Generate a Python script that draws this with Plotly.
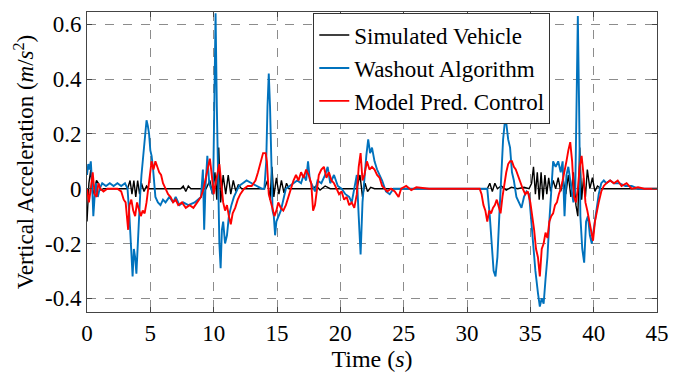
import plotly.graph_objects as go

# ---------------- data ----------------
t_sim = [0, 0.15, 0.3, 0.45, 0.6, 0.75, 0.9, 1.1, 1.3, 3.2, 3.4, 3.55, 3.7, 3.85, 4.0, 4.15, 4.3,
         4.5, 4.7, 4.9, 5.2, 7.4, 7.6, 7.8, 8.0, 8.2, 9.4, 9.7, 9.9, 10.1, 10.25, 10.4, 10.55,
         10.75, 10.95, 11.15, 11.35, 11.55, 11.75, 11.95, 12.2, 12.5, 14.0, 14.25, 14.45, 14.6,
         14.75, 14.95, 15.15, 15.35, 15.55, 15.75, 15.95, 16.3, 17.8, 18.1, 18.4, 18.8, 19.2,
         19.6, 21.3, 21.55, 21.75, 21.95, 22.15, 22.4, 22.7, 31.6, 31.8, 32.0, 32.2, 32.4, 32.7,
         33.1, 33.5, 34.0, 34.5, 34.9, 35.1, 35.25, 35.4, 35.55, 35.7, 35.85, 36.0, 36.15, 36.3,
         36.45, 36.6, 36.8, 37.0, 37.2, 37.4, 37.6, 37.8, 38.0, 38.2, 38.4, 38.6, 38.75, 38.9,
         39.05, 39.2, 39.35, 39.5, 39.7, 39.9, 40.1, 40.3, 40.6, 45]
y_sim = [-0.12, 0.02, 0.07, -0.02, 0.0, 0.03, 0.02, -0.005, 0.0, 0.0, 0.03, -0.02, 0.03, -0.03,
         0.03, -0.02, 0.02, -0.01, 0.01, 0.0, 0.0, 0.0, 0.01, -0.01, 0.01, 0.0, 0.0, 0.03, -0.02,
         0.06, -0.04, 0.15, -0.05, 0.05, -0.02, 0.05, -0.02, 0.03, -0.01, 0.015, 0.0, 0.0, 0.0,
         0.03, -0.04, 0.08, -0.03, 0.04, -0.02, 0.03, -0.015, 0.02, 0.0, 0.0, 0.0, 0.01, -0.005,
         0.01, 0.0, 0.0, 0.0, 0.05, -0.03, 0.02, -0.01, 0.005, 0.0, 0.0, 0.02, -0.01, 0.02, 0.0,
         0.01, -0.005, 0.005, 0.0, 0.005, 0.0, 0.02, 0.08, -0.02, 0.06, -0.04, 0.06, -0.04, 0.05,
         -0.02, 0.04, -0.01, 0.03, 0.0, 0.04, -0.01, 0.03, -0.02, 0.05, -0.03, 0.06, -0.06, -0.1,
         0.15, -0.04, 0.04, -0.03, 0.07, 0.0, 0.04, -0.01, 0.01, 0.0, 0.0]

t_wash = [0, 0.1, 0.2, 0.3, 0.4, 0.5, 0.6, 0.7, 0.85, 1.0, 1.2, 1.5, 1.8, 2.1, 2.4, 2.7, 3.0,
          3.2, 3.35, 3.5, 3.6, 3.7, 3.8, 3.9, 4.0, 4.1, 4.2, 4.3, 4.4, 4.5, 4.6, 4.7, 4.8, 4.9,
          5.0, 5.1, 5.2, 5.3, 5.4, 5.6, 5.8, 6.0, 6.2, 6.5, 6.8, 7.0, 7.3, 7.6, 8.0, 8.5, 9.0,
          9.15, 9.25, 9.35, 9.5, 9.65, 9.8, 9.95, 10.05, 10.15, 10.25, 10.35, 10.45, 10.55,
          10.65, 10.75, 10.9, 11.05, 11.2, 11.4, 11.6, 11.8, 12.0, 12.3, 12.6, 13.0, 13.4, 13.8,
          14.0, 14.15, 14.25, 14.35, 14.45, 14.55, 14.65, 14.75, 14.85, 14.95, 15.1, 15.3, 15.5,
          15.7, 16.0, 16.3, 16.6, 16.9, 17.1, 17.3, 17.45, 17.6, 17.8, 18.0, 18.2, 18.5, 18.8,
          19.0, 19.2, 19.5, 19.8, 20.1, 20.4, 20.7, 20.9, 21.1, 21.3, 21.45, 21.6, 21.75, 21.9,
          22.05, 22.2, 22.35, 22.5, 22.7, 22.9, 23.1, 23.3, 23.6, 23.9, 24.2, 24.6, 31.6, 31.8,
          31.95, 32.1, 32.25, 32.4, 32.55, 32.7, 32.85, 33.0, 33.1, 33.25, 33.4, 33.55, 33.7,
          33.9, 34.1, 34.3, 34.5, 34.7, 34.9, 35.05, 35.2, 35.4, 35.6, 35.75, 35.9, 36.05, 36.2,
          36.35, 36.5, 36.65, 36.8, 37.0, 37.2, 37.4, 37.55, 37.7, 37.85, 38.0, 38.2, 38.4,
          38.55, 38.65, 38.75, 38.85, 38.95, 39.1, 39.25, 39.4, 39.55, 39.7, 39.85, 40.0, 40.2,
          40.4, 40.6, 40.8, 41.0, 41.3, 41.6, 42.0, 42.5, 43.0, 43.5, 45]
y_wash = [0.05, 0.09, 0.07, 0.1, 0.02, -0.1, -0.03, 0.02, -0.03, 0.0, 0.02, 0.01, 0.02, 0.01,
          0.02, 0.01, 0.02, 0.0, -0.1, -0.25, -0.32, -0.22, -0.25, -0.31, -0.2, -0.1, -0.02,
          0.05, 0.1, 0.17, 0.22, 0.25, 0.23, 0.2, 0.14, 0.12, 0.08, 0.02, -0.03, -0.05, -0.06,
          -0.04, -0.05, -0.03, -0.05, -0.03, -0.06, -0.05, -0.06, -0.05, -0.03, 0.07, -0.15, 0.0,
          0.12, 0.02, 0.0, -0.02, 0.3, 0.64, 0.3, -0.05, -0.2, -0.29, -0.15, -0.12, -0.2, -0.17,
          -0.1, -0.06, -0.03, -0.01, 0.01, 0.02, 0.03, 0.02, 0.01, 0.0, 0.0, 0.1, 0.3, 0.42, 0.3,
          0.05, -0.08, -0.1, -0.17, -0.12, -0.1, -0.08, -0.04, 0.0, 0.01, 0.02, 0.03, 0.02, 0.05,
          0.03, 0.1, 0.03, 0.01, -0.01, 0.03, 0.02, 0.05, 0.08, 0.02, 0.05, 0.01, 0.0, -0.02,
          -0.03, -0.05, 0.0, 0.05, -0.1, -0.24, -0.05, 0.05, 0.12, 0.18, 0.13, 0.15, 0.1, 0.07,
          0.05, 0.03, -0.01, -0.02, 0.0, 0.0, 0.0, -0.1, -0.22, -0.3, -0.32, -0.25, -0.1, 0.05,
          0.18, 0.25, 0.24, 0.18, 0.15, 0.06, 0.03, -0.03, -0.05, -0.07, -0.03, -0.01, -0.02,
          -0.1, -0.2, -0.3, -0.38, -0.43, -0.4, -0.42, -0.33, -0.25, -0.12, 0.0, 0.1, 0.08, 0.1,
          0.06, 0.1, -0.1, 0.05, 0.08, 0.02, -0.05, 0.0, 0.4, 0.63, 0.3, -0.1, -0.22, -0.27,
          -0.12, -0.1, -0.17, -0.2, -0.15, -0.08, -0.02, 0.02, 0.03, 0.02, 0.03, 0.02, 0.02,
          0.01, 0.01, 0.0, 0.0]

t_mpc = [0, 0.15, 0.3, 0.45, 0.6, 0.75, 0.9, 1.05, 1.3, 1.6, 2.0, 2.4, 2.7, 2.9, 3.05, 3.15,
         3.25, 3.35, 3.5, 3.65, 3.8, 3.95, 4.1, 4.25, 4.4, 4.55, 4.7, 4.85, 5.0, 5.1, 5.25, 5.4,
         5.55, 5.7, 5.85, 6.0, 6.2, 6.4, 6.6, 6.8, 7.0, 7.2, 7.5, 7.8, 8.1, 8.4, 8.7, 9.0, 9.2,
         9.4, 9.55, 9.7, 9.85, 10.0, 10.15, 10.3, 10.45, 10.6, 10.75, 10.9, 11.05, 11.2, 11.35,
         11.5, 11.7, 11.9, 12.1, 12.4, 12.7, 13.0, 13.3, 13.5, 13.7, 13.9, 14.1, 14.2, 14.35,
         14.5, 14.65, 14.8, 14.95, 15.1, 15.3, 15.5, 15.7, 15.9, 16.1, 16.3, 16.5, 16.7, 16.9,
         17.1, 17.3, 17.5, 17.7, 17.85, 18.0, 18.15, 18.3, 18.5, 18.7, 18.9, 19.1, 19.3, 19.5,
         19.7, 19.9, 20.1, 20.3, 20.5, 20.7, 20.9, 21.1, 21.3, 21.45, 21.6, 21.75, 21.9, 22.1,
         22.3, 22.5, 22.7, 22.9, 23.1, 23.3, 23.5, 23.7, 24.0, 24.3, 24.6, 24.8, 25.2, 25.6,
         26.0, 27.0, 28.0, 31.0, 31.15, 31.3, 31.45, 31.6, 31.75, 31.9, 32.05, 32.2, 32.35,
         32.5, 32.65, 32.8, 32.95, 33.1, 33.25, 33.4, 33.55, 33.7, 33.85, 34.0, 34.2, 34.4,
         34.6, 34.8, 35.0, 35.15, 35.3, 35.45, 35.6, 35.75, 35.9, 36.05, 36.2, 36.35, 36.5,
         36.65, 36.8, 36.95, 37.1, 37.25, 37.4, 37.55, 37.7, 37.85, 38.0, 38.15, 38.3, 38.45,
         38.6, 38.75, 38.9, 39.05, 39.2, 39.35, 39.5, 39.65, 39.8, 39.95, 40.1, 40.25, 40.4,
         40.6, 40.8, 41.0, 41.3, 41.6, 41.9, 42.2, 42.6, 43.0, 43.5, 44.0, 45.0]
y_mpc = [0.0, -0.05, 0.0, 0.06, -0.02, -0.03, 0.02, 0.0, -0.01, 0.0, 0.0, 0.0, -0.01, -0.04,
         -0.05, -0.12, -0.15, -0.06, -0.04, -0.08, -0.1, -0.05, -0.08, -0.1, -0.08, -0.09,
         -0.05, 0.0, 0.06, 0.1, 0.07, 0.1, 0.08, 0.06, 0.05, 0.02, 0.0, -0.02, -0.03, -0.05,
         -0.04, -0.06, -0.05, -0.07, -0.06, -0.07, -0.05, -0.03, 0.0, 0.04, 0.07, 0.11, 0.05,
         -0.02, 0.02, 0.05, 0.09, 0.02, -0.05, -0.08, -0.06, -0.1, -0.13, -0.09, -0.07, -0.04,
         -0.02, 0.0, 0.01, 0.01, 0.03, 0.06, 0.1, 0.13, 0.13, 0.1, -0.02, -0.05, -0.08, -0.1,
         -0.08, -0.05, -0.07, -0.08, -0.06, -0.03, 0.0, 0.03, 0.05, 0.03, 0.06, 0.04, 0.07,
         0.05, 0.02, -0.08, -0.06, 0.0, 0.05, 0.07, 0.08, 0.04, 0.06, 0.03, 0.02, 0.0, -0.02,
         -0.01, -0.04, -0.03, -0.06, -0.05, -0.07, -0.02, 0.08, 0.13, 0.03, 0.05, 0.1, 0.07,
         0.08, 0.07, 0.05, 0.04, 0.01, 0.0, -0.01, 0.0, -0.01, -0.03, 0.0, 0.01, -0.005, 0.005,
         0.0, 0.0, 0.0, -0.02, -0.06, -0.08, -0.12, -0.08, -0.09, -0.07, -0.06, -0.04, -0.07,
         -0.09, -0.03, 0.02, 0.06, 0.09, 0.1, 0.1, 0.08, 0.07, 0.05, 0.02, 0.0, -0.02, -0.01,
         -0.05, -0.1, -0.15, -0.22, -0.25, -0.32, -0.22, -0.2, -0.16, -0.18, -0.12, -0.1, -0.09,
         -0.06, -0.05, -0.02, 0.0, 0.03, 0.06, 0.1, 0.14, 0.17, 0.1, -0.03, -0.05, 0.0, 0.08,
         0.12, 0.05, -0.05, -0.08, -0.12, -0.16, -0.19, -0.12, -0.08, -0.05, -0.01, 0.01, 0.02,
         0.03, 0.02, 0.03, 0.01, 0.02, 0.0, 0.005, 0.0, 0.0]

series_names = ["Simulated Vehicle", "Washout Algorithm", "Model Pred. Control"]
x_ticks = [0, 5, 10, 15, 20, 25, 30, 35, 40, 45]
y_ticks = [-0.4, -0.2, 0, 0.2, 0.4, 0.6]
y_tick_labels = ["-0.4", "-0.2", "0", "0.2", "0.4", "0.6"]

# ---------------- figure ----------------
FONT = "Liberation Serif"
fig = go.Figure()
fig.add_trace(go.Scatter(x=t_sim, y=y_sim, mode="lines", name=series_names[0],
                         line=dict(color="#000000", width=1.4)))
fig.add_trace(go.Scatter(x=t_wash, y=y_wash, mode="lines", name=series_names[1],
                         line=dict(color="#0072BD", width=1.9)))
fig.add_trace(go.Scatter(x=t_mpc, y=y_mpc, mode="lines", name=series_names[2],
                         line=dict(color="#FF0000", width=1.9)))

axis_common = dict(showline=True, linecolor="#444444", linewidth=1, mirror="ticks",
                   ticks="inside", ticklen=5, tickcolor="#444444", automargin=False,
                   showgrid=True, gridcolor="#8c8c8c", griddash="dash", gridwidth=1,
                   zeroline=False, tickfont=dict(family=FONT, size=23, color="#000"))

fig.update_xaxes(range=[0, 45], tickvals=x_ticks,
                 title=dict(text="Time (<i>s</i>)", font=dict(family=FONT, size=24, color="#000"),
                            standoff=4),
                 **axis_common)
fig.update_yaxes(range=[-0.45, 0.645], tickvals=y_ticks, ticktext=y_tick_labels,
                 title=dict(text="Vertical Acceleration (<i>m</i>/<i>s</i><sup>2</sup>)",
                            font=dict(family=FONT, size=23, color="#000"), standoff=4),
                 **axis_common)

fig.update_layout(
    width=684, height=376,
    margin=dict(l=87, r=27, t=12, b=64),
    plot_bgcolor="white", paper_bgcolor="white",
    font=dict(family=FONT, size=23, color="#000"),
    legend=dict(x=0.397, y=0.998, xanchor="left", yanchor="top",
                bgcolor="white", bordercolor="#333333", borderwidth=1,
                font=dict(family=FONT, size=23, color="#000"),
                tracegroupgap=0, itemwidth=30),
)

fig.write_html("out.html", config={"displayModeBar": False},
               post_script="document.body.style.margin='0px';")
